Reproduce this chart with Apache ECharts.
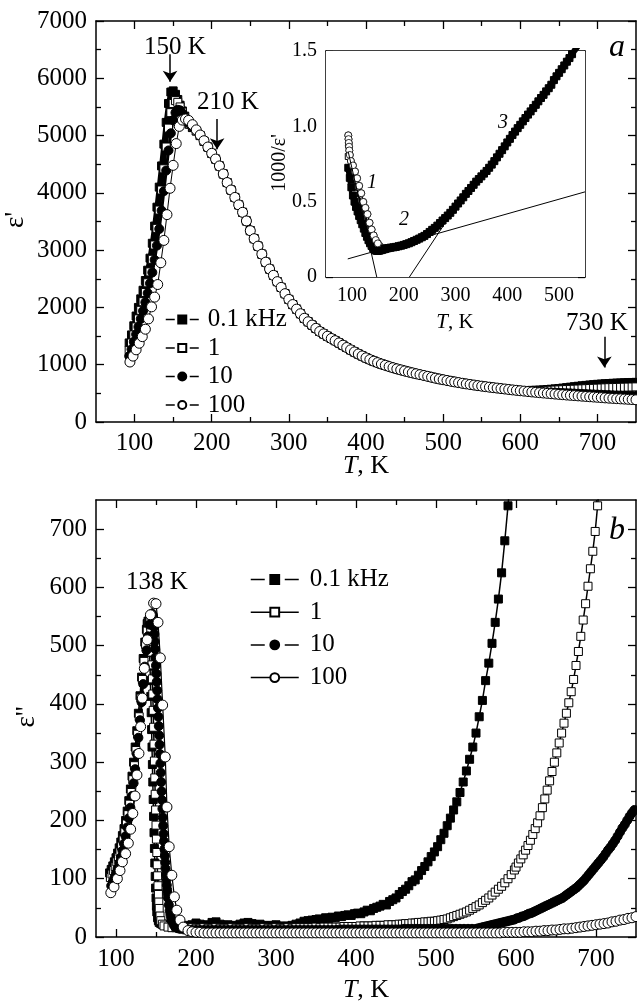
<!DOCTYPE html>
<html><head><meta charset="utf-8">
<script src="https://cdn.jsdelivr.net/npm/echarts@6/dist/echarts.min.js"></script>
<style>html,body{margin:0;padding:0;background:#fff}#c{width:637px;height:1005px}</style>
</head><body><div id="c"></div>
<script>
// ---------- tick labels ----------
const topXMajor = [100,200,300,400,500,600,700];
const topXMinor = [150,250,350,450,550,650];
const topYMajor = [0,1000,2000,3000,4000,5000,6000,7000];
const topYMinor = [500,1500,2500,3500,4500,5500,6500];
const insXMajor = [100,200,300,400,500];
const insXMinor = [150,250,350,450];
const insYMajor = [0,0.5,1.0,1.5];
const insYMinor = [0.25,0.75,1.25];
const botXMajor = [100,200,300,400,500,600,700];
const botXMinor = [150,250,350,450,550,650];
const botYMajor = [0,100,200,300,400,500,600,700];
const botYMinor = [50,150,250,350,450,550,650];
const freqNames = ['0.1 kHz','1','10','100'];

// ---------- panel a: eps' ----------
const top01Low = [[93,1380],[96,1520],[99,1680],[102,1850],[105,2000],[108,2150],[111,2300],[114,2470],[117,2650],[120,2860],[123,3120],[126,3420],[129,3750],[132,4100],[135,4470],[138,4850],[141,5230],[144,5560],[147,5760],[150,5780],[153,5720],[156,5630],[159,5530],[162,5430],[165,5340],[168,5260],[171,5200],[175,5140],[180,5080],[185,5000],[190,4900],[195,4800]];
const top1Low = [[93,1250],[96,1380],[99,1520],[102,1660],[105,1800],[108,1950],[111,2100],[114,2260],[117,2430],[120,2620],[123,2840],[126,3090],[129,3380],[132,3700],[135,4050],[138,4420],[141,4800],[144,5130],[147,5400],[150,5560],[153,5610],[156,5580],[159,5500],[162,5410],[165,5320],[168,5250],[171,5200],[175,5140],[180,5080],[185,5000],[190,4900],[195,4800]];
const top10Low = [[93,1150],[96,1270],[99,1400],[102,1530],[105,1660],[108,1800],[111,1940],[114,2090],[117,2250],[120,2420],[123,2610],[126,2830],[129,3080],[132,3370],[135,3690],[138,4030],[141,4390],[144,4740],[147,5040],[150,5270],[153,5400],[156,5450],[159,5440],[162,5390],[165,5320],[168,5260],[171,5210],[175,5150],[180,5090],[185,5005],[190,4905],[195,4800]];
const top100Low = [[94,1047],[98,1150],[102,1260],[106,1375],[110,1490],[114,1620],[118,1800],[122,2010],[126,2180],[130,2400],[134,2780],[138,3170],[142,3620],[146,4080],[150,4480],[154,4860],[158,5160],[162,5270],[166,5290],[170,5265],[175,5190],[180,5100],[185,5010],[190,4910],[195,4800]];
const topMid = [[200,4690],[205,4590],[210,4470],[215,4330],[220,4180],[225,4050],[230,3920],[235,3790],[240,3660],[245,3510],[250,3340],[255,3200],[260,3070],[265,2930],[270,2790],[275,2670],[280,2560],[285,2450],[290,2350],[295,2240],[300,2140],[305,2050],[310,1970],[315,1890],[320,1810],[325,1750],[330,1692],[335,1635],[340,1580],[345,1538],[350,1497],[355,1458],[360,1420],[365,1380],[370,1340],[375,1300],[380,1260],[385,1223],[390,1187],[395,1153],[400,1120],[405,1090],[410,1062],[415,1036],[420,1012],[425,990],[430,968],[435,948],[440,928],[445,910],[450,892],[455,875],[460,858],[465,842],[470,827],[475,812],[480,797],[485,781],[490,765],[495,751],[500,738],[505,725],[510,712],[515,700],[520,688],[525,676],[530,665],[535,655],[540,645],[545,635],[550,626],[555,617],[560,608],[565,600],[570,592],[575,584],[580,576],[585,568],[590,560],[595,553]];
const top01High = [[600,548],[605,549],[610,550],[615,552],[620,554],[625,557],[630,561],[635,566],[640,572],[645,578],[650,585],[655,592],[660,600],[665,608],[670,616],[675,624],[680,632],[685,639],[690,646],[695,652],[700,658],[705,663],[710,668],[715,672],[720,676],[725,679],[730,682],[735,685],[740,688],[745,690],[750,692]];
const top1High = [[600,547],[605,546],[610,546],[615,546],[620,547],[625,548],[630,550],[635,552],[640,554],[645,557],[650,560],[655,563],[660,566],[665,569],[670,572],[675,575],[680,578],[685,581],[690,584],[695,587],[700,590],[705,593],[710,596],[715,599],[720,601],[725,603],[730,605],[735,607],[740,609],[745,611],[750,613]];
const top10High = [[600,547],[605,542],[610,537],[615,533],[620,529],[625,525],[630,521],[635,518],[640,515],[645,512],[650,509],[655,506],[660,503],[665,500],[670,497],[675,494],[680,491],[685,488],[690,485],[695,482],[700,479],[705,476],[710,473],[715,470],[720,467],[725,464],[730,461],[735,458],[740,455],[745,452],[750,449]];
const top100High = [[600,546],[605,539],[610,532],[615,525],[620,518],[625,512],[630,506],[635,500],[640,494],[645,488],[650,482],[655,477],[660,471],[665,466],[670,461],[675,456],[680,451],[685,446],[690,441],[695,436],[700,431],[705,426],[710,421],[715,416],[720,412],[725,408],[730,404],[735,400],[740,396],[745,392],[750,388]];

// ---------- inset: 1000/eps' ----------
const inv01Low = [[93,0.725],[96,0.658],[99,0.595],[102,0.541],[105,0.500],[108,0.465],[111,0.435],[114,0.405],[117,0.377],[120,0.350],[123,0.321],[126,0.292],[129,0.267],[132,0.244],[135,0.224],[138,0.206],[141,0.191],[144,0.180],[147,0.174],[150,0.173],[153,0.175],[156,0.178],[159,0.181],[162,0.184],[165,0.187],[168,0.190],[171,0.192],[175,0.195],[180,0.197],[185,0.200],[190,0.204],[195,0.208]];
const inv1Low = [[93,0.800],[96,0.725],[99,0.658],[102,0.602],[105,0.556],[108,0.513],[111,0.476],[114,0.442],[117,0.412],[120,0.382],[123,0.352],[126,0.324],[129,0.296],[132,0.270],[135,0.247],[138,0.226],[141,0.208],[144,0.195],[147,0.185],[150,0.180],[153,0.178],[156,0.179],[159,0.182],[162,0.185],[165,0.188],[168,0.190],[171,0.192],[175,0.195],[180,0.197],[185,0.200],[190,0.204],[195,0.208]];
const inv10Low = [[93,0.870],[96,0.787],[99,0.714],[102,0.654],[105,0.602],[108,0.556],[111,0.515],[114,0.478],[117,0.444],[120,0.413],[123,0.383],[126,0.353],[129,0.325],[132,0.297],[135,0.271],[138,0.248],[141,0.228],[144,0.211],[147,0.198],[150,0.190],[153,0.185],[156,0.183],[159,0.184],[162,0.186],[165,0.188],[168,0.190],[171,0.192],[175,0.194],[180,0.196],[185,0.200],[190,0.204],[195,0.208]];
const inv100Low = [[93,0.940],[93.5,0.915],[94,0.890],[94.5,0.865],[95,0.840],[96,0.810],[98,0.770],[102,0.740],[106,0.700],[110,0.655],[114,0.605],[118,0.556],[122,0.498],[126,0.459],[130,0.417],[134,0.360],[138,0.315],[142,0.276],[146,0.245],[150,0.223],[154,0.206],[158,0.194],[162,0.190],[166,0.189],[170,0.190],[175,0.193],[180,0.196],[185,0.200],[190,0.204],[195,0.208]];
const invMid = [[200,0.213],[205,0.218],[210,0.224],[215,0.231],[220,0.239],[225,0.247],[230,0.255],[235,0.264],[240,0.273],[245,0.285],[250,0.299],[255,0.313],[260,0.326],[265,0.341],[270,0.358],[275,0.375],[280,0.391],[285,0.408],[290,0.426],[295,0.446],[300,0.467],[305,0.488],[310,0.508],[315,0.529],[320,0.552],[325,0.571],[330,0.591],[335,0.612],[340,0.633],[345,0.650],[350,0.668],[355,0.686],[360,0.704],[365,0.725],[370,0.746],[375,0.769],[380,0.794],[385,0.818],[390,0.842],[395,0.867],[400,0.893],[405,0.917],[410,0.942],[415,0.965],[420,0.988],[425,1.010],[430,1.033],[435,1.055],[440,1.078],[445,1.099],[450,1.121],[455,1.143],[460,1.166],[465,1.188],[470,1.209],[475,1.232],[480,1.253],[485,1.276],[490,1.307],[495,1.332],[500,1.355],[505,1.379],[510,1.404],[515,1.429],[520,1.453],[525,1.479],[530,1.504],[535,1.527],[540,1.550]];
const fitLine1 = [[93,0.83],[148,0]];
const fitLine2 = [[92,0.12],[550,0.565]];
const fitLine3 = [[211,0],[290,0.41]];

// ---------- panel b: eps'' ----------
const b01Rise = [[92,110],[94,116],[96,122],[98,129],[100,136],[102,144],[104,153],[106,163],[108,174],[110,186],[112,200],[114,216],[116,234],[118,254],[120,276],[122,300],[124,326],[126,354],[128,384],[130,414],[132,446],[134,478],[136,506],[138,528],[139,538],[140,542]];
const b01Fall = [[140.5,536],[141,524],[141.5,508],[142,488],[142.5,465],[143,440],[143.5,413],[144,385],[144.5,356],[145,326],[145.5,296],[146,266],[146.5,236],[147,207],[147.5,179],[148,152],[148.5,127],[149,104],[149.5,84],[150,67],[150.5,53],[151,43],[152,33],[153,28],[154,25],[156,23],[158,22],[160,21]];
const b01Flat = [[165,20],[170,19],[175,20],[180,22],[185,20],[190,18],[195,21],[200,24],[205,22],[210,19],[215,21],[220,25],[225,26],[230,22],[235,20],[240,21],[245,19],[250,20],[255,22],[260,24],[265,25],[270,23],[275,21],[280,22],[285,20],[290,19],[295,20],[300,21],[305,19],[310,18],[315,19],[320,20],[325,22],[330,24],[335,27],[340,28],[345,29]];
const b01High = [[350,30],[354,31],[358,30],[362,33],[366,32],[370,34],[374,33],[378,36],[382,35],[386,37],[390,38],[394,37],[398,40],[402,41],[406,40],[410,43],[414,46],[418,45],[422,49],[426,51],[430,53],[434,56],[438,55],[442,61],[446,64],[450,67],[454,73],[458,78],[462,82],[466,88],[470,95],[474,98],[478,106],[482,114],[486,121],[490,129],[494,138],[498,146],[502,155],[506,167],[510,178],[514,191],[518,204],[522,218],[526,232],[530,248],[534,266],[538,285],[542,305],[546,326],[550,350],[554,378],[558,406],[562,440],[566,470],[570,504],[574,540],[578,580],[582,625],[586,680],[590,740],[592,775]];
const b1Rise = [[93,102],[95,108],[97,114],[99,121],[101,129],[103,137],[105,146],[107,156],[109,167],[111,180],[113,194],[115,210],[117,228],[119,248],[121,270],[123,294],[125,320],[127,348],[129,378],[131,410],[133,442],[135,473],[137,502],[139,525],[141,540],[142,544]];
const b1Fall = [[142.5,542],[143,535],[143.5,524],[144,508],[144.5,489],[145,467],[145.5,443],[146,417],[146.5,389],[147,360],[147.5,331],[148,302],[148.5,273],[149,245],[149.5,218],[150,192],[150.5,168],[151,145],[151.5,124],[152,105],[152.5,88],[153,73],[153.5,60],[154,49],[155,36],[156,28],[158,22],[160,19]];
const b1Flat = [[165,17],[170,16],[175,16],[180,16],[185,16],[190,15],[195,16],[200,15],[205,15],[210,16],[215,15],[220,15],[225,16],[230,15],[235,15],[240,15],[245,16],[250,15],[255,15],[260,15],[265,16],[270,15],[275,15],[280,15],[285,16],[290,15],[295,15],[300,16],[305,15],[310,15],[315,16],[320,15],[325,16],[330,16],[335,16],[340,16],[345,16],[350,17],[355,16],[360,17],[365,17],[370,17],[375,17],[380,17],[385,18],[390,18],[395,18],[400,18],[405,19],[410,19],[415,19],[420,19],[425,20],[430,20],[435,20],[440,21],[445,21]];
const b1High = [[450,21],[454,22],[458,22],[462,23],[466,23],[470,24],[474,24],[478,25],[482,25],[486,26],[490,26],[494,27],[498,27],[502,28],[506,29],[510,30],[514,31],[518,33],[522,35],[526,37],[530,39],[534,41],[538,43],[542,46],[546,49],[550,52],[554,55],[558,59],[562,63],[566,67],[570,72],[574,77],[578,82],[582,87],[586,93],[590,100],[594,107],[598,115]];
const b1Steep = [[600,120],[603,127],[606,134],[609,141],[612,149],[615,157],[618,166],[621,176],[624,186],[627,196],[630,208],[633,222],[636,237],[639,252],[642,268],[645,284],[648,300],[651,316],[654,333],[657,350],[660,367],[663,384],[666,402],[669,421],[672,442],[675,466],[678,490],[681,516],[684,544],[687,572],[690,602],[693,632],[696,662],[699,696],[702,740],[704,775]];
const b10Rise = [[94,88],[96,95],[98,102],[100,110],[102,118],[104,127],[106,137],[108,148],[110,160],[112,173],[114,188],[116,204],[118,222],[120,242],[122,264],[124,288],[126,314],[128,342],[130,372],[132,403],[134,434],[136,464],[138,492],[140,516],[142,536],[144,550],[145,555],[146,552]];
const b10Fall = [[146.5,548],[147,541],[147.5,532],[148,520],[148.5,507],[149,494],[149.5,480],[150,466],[150.5,452],[151,438],[151.5,423],[152,408],[152.5,393],[153,378],[153.5,362],[154,346],[154.5,330],[155,314],[155.5,298],[156,282],[156.5,266],[157,250],[157.5,235],[158,220],[158.5,205],[159,191],[159.5,177],[160,164],[160.5,151],[161,139],[161.5,128],[162,117],[162.5,107],[163,98],[163.5,89],[164,81],[164.5,74],[165,67],[166,55],[167,45],[168,38],[169,32],[170,27],[172,21],[174,17],[177,15],[180,14],[185,13],[190,13]];
const b10Flat = [[195,12],[200,12],[205,12],[210,12],[215,12],[220,12],[225,12],[230,12],[235,12],[240,12],[245,12],[250,12],[255,12],[260,12],[265,12],[270,12],[275,12],[280,12],[285,12],[290,12],[295,12],[300,12],[305,12],[310,12],[315,12],[320,12],[325,12],[330,12],[335,12],[340,12],[345,12],[350,12],[355,12],[360,12],[365,12],[370,12],[375,12],[380,13],[385,13],[390,13],[395,13],[400,13],[405,13],[410,13],[415,13],[420,13],[425,13],[430,13],[435,13],[440,13],[445,13],[450,13],[455,13],[460,14],[465,14],[470,14],[475,14],[480,14],[485,14],[490,14],[495,14],[500,14],[505,14],[510,14],[515,14],[520,14],[525,14],[530,14],[535,14],[540,14],[545,14]];
const b10High = [[550,14],[553,15],[556,16],[559,17],[562,18],[565,19],[568,20],[571,21],[574,22],[577,23],[580,24],[583,25],[586,26],[589,27],[592,28],[595,29],[598,30],[601,32],[604,33],[607,35],[610,36],[613,38],[616,40],[619,41],[622,43],[625,45],[628,47],[631,49],[634,51],[637,53],[640,55],[643,57],[646,59],[649,61],[652,63],[655,65],[658,67],[661,70],[664,73],[667,76],[670,79],[673,82],[676,85],[679,89],[682,93],[685,97],[688,102],[691,107],[694,112],[697,117],[700,122],[703,127],[706,132],[709,137],[712,143],[715,149],[718,154],[721,160],[724,166],[727,173],[730,180],[733,187],[736,193],[739,200],[742,207],[745,213],[748,218]];
const b100Peak = [[93.5,76],[97.5,86],[101.7,100],[105,114],[108,129],[112,143],[115.4,161],[118.3,185],[121,212],[123.8,242],[126.2,278],[128.7,315],[130.8,361],[132.9,410],[135.4,461],[139,510],[143,553],[147,573],[150,572],[152.5,540],[155.4,479],[158.3,398],[161.6,309],[163.7,223],[166.5,155],[169.8,106],[173,69],[176,46],[180,29],[184,17],[190,11],[195,9]];
const b100Flat = [[200,8],[205,8],[210,7],[215,7],[220,7],[225,7],[230,7],[235,7],[240,7],[245,7],[250,7],[255,7],[260,7],[265,7],[270,7],[275,7],[280,7],[285,7],[290,7],[295,7],[300,7],[305,7],[310,7],[315,7],[320,7],[325,7],[330,7],[335,7],[340,7],[345,7],[350,7],[355,7],[360,7],[365,7],[370,7],[375,7],[380,7],[385,7],[390,7],[395,7],[400,7],[405,7],[410,7],[415,7],[420,7],[425,7],[430,7],[435,7],[440,7],[445,7],[450,7],[455,7],[460,7],[465,7],[470,7],[475,7],[480,7],[485,7],[490,7],[495,7],[500,7],[505,7],[510,7],[515,7],[520,7],[525,7],[530,7],[535,7],[540,7],[545,7],[550,7],[555,7],[560,7],[565,7],[570,7],[575,7],[580,7],[585,8],[590,8],[595,8],[600,8],[605,8],[610,9],[615,9],[620,9],[625,10],[630,10],[635,11],[640,11],[645,12],[650,12],[655,13],[660,14],[665,14],[670,15],[675,16],[680,17],[685,18],[690,19],[695,20],[700,21],[705,22],[710,23],[715,24],[720,26],[725,27],[730,29],[735,30],[740,32],[745,33],[750,35]];

// annotation arrows (data coordinates of panel a)
const arrowsA = [[[146,6420],[146,5940]],[[207,5290],[207,4760]],[[709,1490],[709,950]]];

// ---------- build ----------
const F = '"Liberation Serif","Times New Roman",serif';
const chart = echarts.init(document.getElementById('c'));

function sideAxes(dim, grid, min, max, majors, minors, majLen, minLen, lblSize, lblMargin, fmt) {
  const pos = dim === 'x' ? ['bottom','top'] : ['left','right'];
  const out = [];
  pos.forEach((p, k) => {
    out.push({type:'value', gridIndex:grid, min, max, position:p,
      axisLine:{show:true, onZero:false, lineStyle:{color:'#000', width:1.5}},
      axisTick:{show:true, inside:true, length:majLen, customValues:majors, lineStyle:{color:'#000', width:1.3}},
      axisLabel:{show:k === 0, customValues:majors, margin:lblMargin, color:'#000', fontFamily:F, fontSize:lblSize, formatter:fmt || (v => String(v))},
      splitLine:{show:false}});
    out.push({type:'value', gridIndex:grid, min, max, position:p,
      axisLine:{show:false, onZero:false},
      axisTick:{show:true, inside:true, length:minLen, customValues:minors, lineStyle:{color:'#000', width:1.3}},
      axisLabel:{show:false}, splitLine:{show:false}});
  });
  return out;
}
const xAxes = [].concat(
  sideAxes('x', 0, 50, 750, topXMajor, topXMinor, 8, 5, 25, 9),
  sideAxes('x', 1, 50, 550, insXMajor, insXMinor, 7, 4, 20, 9),
  sideAxes('x', 2, 75, 750, botXMajor, botXMinor, 8, 5, 25, 10));
const yAxes = [].concat(
  sideAxes('y', 0, 0, 7000, topYMajor, topYMinor, 8, 5, 25, 9),
  sideAxes('y', 1, 0, 1.5, insYMajor, insYMinor, 7, 4, 20, 9, v => v === 0 ? '0' : v.toFixed(1)),
  sideAxes('y', 2, 0, 750, botYMajor, botYMinor, 8, 5, 25, 9));

const look = {
  '0.1 kHz': {symbol:'rect', fill:'#000'},
  '1': {symbol:'rect', fill:'#fff'},
  '10': {symbol:'circle', fill:'#000'},
  '100': {symbol:'circle', fill:'#fff'}
};
function ser(name, data, axisIdx, size, lw, extra) {
  const L = look[name];
  return Object.assign({
    type:'line', name, data, xAxisIndex:axisIdx, yAxisIndex:axisIdx,
    symbol:L.symbol, symbolSize:size, showSymbol:true, showAllSymbol:true,
    lineStyle:{color:'#000', width:lw}, itemStyle:{color:L.fill, borderColor:'#000', borderWidth:1},
    emphasis:{disabled:true}, silent:true, animation:false
  }, extra || {});
}
const openCircleThin = {itemStyle:{color:'#fff', borderColor:'#000', borderWidth:0.8}};
const series = [
  ser('0.1 kHz', [...top01Low, ...topMid, ...top01High], 0, 8, 5, {
    markLine:{silent:true, animation:false, symbol:['none','arrow'], symbolSize:11,
      label:{show:false}, lineStyle:{color:'#000', width:1.5, type:'solid'},
      data: arrowsA.map(a => [{coord:a[0]}, {coord:a[1]}])}}),
  ser('1', [...top1Low, ...topMid, ...top1High], 0, 8, 3),
  ser('10', [...top10Low, ...topMid, ...top10High], 0, 9, 3),
  ser('100', [...top100Low, ...topMid, ...top100High], 0, 10, 1),
  // inset (grid 1 uses axis index 4)
  Object.assign(ser('100', [...inv100Low, ...invMid], 4, 7, 1, openCircleThin), {name:'i100'}),
  Object.assign(ser('10', inv10Low, 4, 6, 2), {name:'i10'}),
  Object.assign(ser('1', inv1Low, 4, 6, 2), {name:'i1'}),
  Object.assign(ser('0.1 kHz', [...inv01Low, ...invMid], 4, 7, 6), {name:'i01'}),
  // low-temperature 100 kHz circles stay visible on top of the dark band
  Object.assign(ser('100', inv100Low.filter(p => p[0] <= 150), 4, 7, 1, openCircleThin), {name:'i100top'}),
  {type:'line', name:'fit1', data:fitLine1, xAxisIndex:4, yAxisIndex:4, symbol:'none', lineStyle:{color:'#000', width:1}, silent:true, animation:false, z:5},
  {type:'line', name:'fit2', data:fitLine2, xAxisIndex:4, yAxisIndex:4, symbol:'none', lineStyle:{color:'#000', width:1}, silent:true, animation:false, z:5},
  {type:'line', name:'fit3', data:fitLine3, xAxisIndex:4, yAxisIndex:4, symbol:'none', lineStyle:{color:'#000', width:1}, silent:true, animation:false, z:5},
  // panel b (axis index 8)
  ser('0.1 kHz', [...b01Rise, ...b01Fall, ...b01Flat, ...b01High], 8, 8, 1.5),
  ser('1', [...b1Rise, ...b1Fall, ...b1Flat, ...b1High, ...b1Steep], 8, 8, 1.5),
  ser('10', [...b10Rise, ...b10Fall, ...b10Flat, ...b10High], 8, 9, 1.5),
  ser('100', [...b100Peak, ...b100Flat], 8, 10, 1.2)
];

function T(x, y, text, size, extra) {
  return Object.assign({type:'text', x, y, silent:true, z:50,
    style:{text, fill:'#000', font: size + 'px ' + F, align:'center', verticalAlign:'middle'}}, extra || {});
}
function TI(x, y, text, size) {
  return {type:'text', x, y, silent:true, z:50,
    style:{text, fill:'#000', font:'italic ' + size + 'px ' + F, align:'center', verticalAlign:'middle'}};
}
function TK(x, y, size) {
  return {type:'text', x, y, silent:true, z:50,
    style:{text:'{i|T}{n|, K}', align:'center', verticalAlign:'middle', fill:'#000',
      rich:{i:{fontStyle:'italic', fontSize:size, fontFamily:F, fill:'#000'}, n:{fontSize:size, fontFamily:F, fill:'#000'}}}};
}
const graphic = [
  T(16, 220, "ε'", 27, {rotation:Math.PI/2}),
  TK(366, 466, 26),
  T(280, 163, "1000/ε'", 20, {rotation:Math.PI/2}),
  TK(455, 322, 21),
  T(175, 47, '150 K', 25),
  T(228, 102, '210 K', 25),
  T(597, 323, '730 K', 25),
  TI(617, 48, 'a', 32),
  TI(372, 183, '1', 20),
  TI(404, 220, '2', 20),
  TI(503, 123, '3', 20),
  T(27, 717, "ε''", 27, {rotation:Math.PI/2}),
  TK(366, 990, 26),
  T(157, 582, '138 K', 25),
  TI(617, 531, 'b', 32)
];

const legendTop = {
  left:160, top:302, orient:'vertical', itemWidth:33, itemHeight:10, itemGap:3.5, selectedMode:false,
  textStyle:{fontFamily:F, fontSize:25, color:'#000', lineHeight:25, padding:[0,0,0,4]},
  data: freqNames.map(n => ({name:n, lineStyle:{type:[9,15], width:1.5}}))
};
const legendBot = {
  left:245, top:562, orient:'vertical', itemWidth:48, itemHeight:11, itemGap:7.7, selectedMode:false,
  textStyle:{fontFamily:F, fontSize:25, color:'#000', lineHeight:25, padding:[0,0,0,6]},
  data: freqNames.map((n, i) => ({name:n, lineStyle:{type: i % 2 === 0 ? [14,20] : 'solid', width:1.5}}))
};

chart.setOption({
  animation:false,
  backgroundColor:'#fff',
  textStyle:{fontFamily:F},
  grid:[
    {left:96, top:21, width:540, height:401, containLabel:false},
    {left:326, top:51, width:259, height:226, containLabel:false, show:true, backgroundColor:'#fff', borderWidth:0, z:3},
    {left:96, top:500, width:540, height:437, containLabel:false}
  ],
  xAxis:xAxes, yAxis:yAxes,
  legend:[legendTop, legendBot],
  series, graphic
});
</script></body></html>
